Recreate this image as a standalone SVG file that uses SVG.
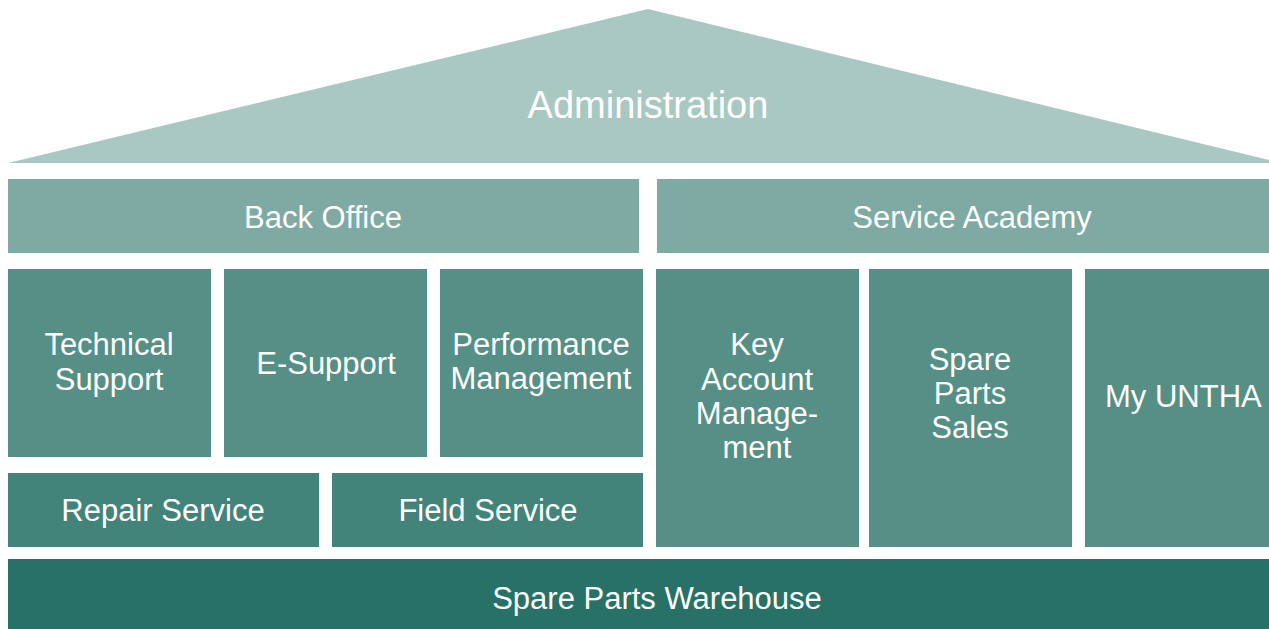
<svg xmlns="http://www.w3.org/2000/svg" width="1269" height="629" viewBox="0 0 1269 629">
<style>
.t{font-family:"Liberation Sans",Arial,sans-serif;fill:#fff;text-anchor:middle;font-size:31px}
.roof{fill:#A9C8C2}.band{fill:#7FAAA3}.mid{fill:#558F86}.low{fill:#42847A}.base{fill:#287167}
</style>
<rect width="1269" height="629" fill="#fff"/>
<g id="administration"><polygon class="roof" points="8,163 648,9 1269,160 1269,163"/><text class="t" x="648" y="118" style="font-size:38px">Administration</text></g>
<g id="back-office"><rect class="band" x="8" y="179" width="631" height="74"/><text class="t" x="323" y="228">Back Office</text></g>
<g id="service-academy"><rect class="band" x="657" y="179" width="612" height="74"/><text class="t" x="972" y="228">Service Academy</text></g>
<g id="technical-support"><rect class="mid" x="8" y="269" width="203" height="188"/><text class="t" x="109" y="355">Technical<tspan x="109" y="390">Support</tspan></text></g>
<g id="e-support"><rect class="mid" x="224" y="269" width="203" height="188"/><text class="t" x="326" y="374">E-Support</text></g>
<g id="performance-management"><rect class="mid" x="440" y="269" width="203" height="188"/><text class="t" x="541" y="355">Performance<tspan x="541" y="389">Management</tspan></text></g>
<g id="key-account-management"><rect class="mid" x="656" y="269" width="203" height="278"/><text class="t" x="757" y="355">Key<tspan x="757" y="390">Account</tspan><tspan x="757" y="424">Manage-</tspan><tspan x="757" y="458">ment</tspan></text></g>
<g id="spare-parts-sales"><rect class="mid" x="869" y="269" width="203" height="278"/><text class="t" x="970" y="370">Spare<tspan x="970" y="404">Parts</tspan><tspan x="970" y="438">Sales</tspan></text></g>
<g id="my-untha"><rect class="mid" x="1085" y="269" width="184" height="278"/><text class="t" x="1105" y="407" style="text-anchor:start">My UNTHA</text></g>
<g id="repair-service"><rect class="low" x="8" y="473" width="311" height="74"/><text class="t" x="163" y="521">Repair Service</text></g>
<g id="field-service"><rect class="low" x="332" y="473" width="311" height="74"/><text class="t" x="488" y="521">Field Service</text></g>
<g id="spare-parts-warehouse"><rect class="base" x="8" y="559" width="1261" height="70"/><text class="t" x="657" y="609">Spare Parts Warehouse</text></g>
<g id="connectors"></g>
</svg>
